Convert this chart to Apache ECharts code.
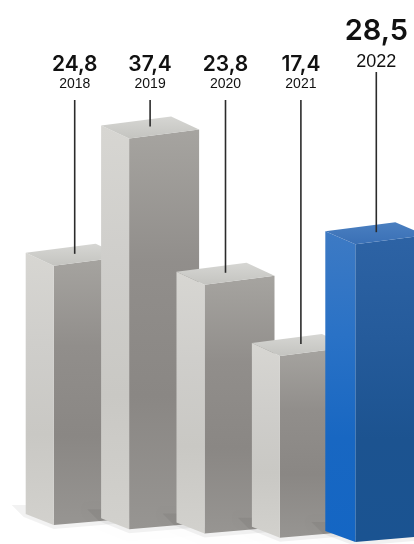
<!DOCTYPE html>
<html>
<head>
<meta charset="utf-8">
<script src="https://cdn.jsdelivr.net/npm/echarts@6/dist/echarts.min.js"></script>
<style>
html,body{margin:0;padding:0;background:#fff;}
#chart{width:414px;height:544px;}
</style>
</head>
<body>
<div id="chart"></div>
<script>
var years = ['2018', '2019', '2020', '2021', '2022'];
var values = [24.8, 37.4, 23.8, 17.4, 28.5];
var highlightIndex = 4;

var chart = echarts.init(document.getElementById('chart'), null, {renderer: 'canvas'});
var G = echarts.graphic;

function grad(stops) {
  return new G.LinearGradient(0, 0, 0, 1, stops.map(function (c, k) {
    return {offset: k / (stops.length - 1), color: c};
  }));
}

var PERSP = 4.25;
var VFONT = 'Inter, "Liberation Sans", Arial, sans-serif';
var YFONT = '"Liberation Sans", Arial, sans-serif';

function renderItem(params, api) {
  var i = api.value(0);
  var v = api.value(1);
  var top = api.coord([i, v]);
  var bot = api.coord([i, 0]);
  var dy = i * PERSP;
  var last = i === highlightIndex;
  var cx = top[0];
  var x1 = cx - 21;
  var x0 = x1 - (last ? 30 : 28);
  var x2 = x1 + 70;
  var yF = top[1] + dy;
  var yB = bot[1] + dy;

  var frontCol, sideCol, topCol;
  if (last) {
    frontCol = grad(['#3d7ac4', '#2a72c6', '#1867c2', '#1466c4']);
    sideCol = grad(['#2d63a5', '#255b9b', '#1c5390', '#1a5391']);
    topCol = grad(['#4a7fc0', '#3a70b6']);
  } else {
    frontCol = grad(['#d7d6d2', '#cfcecb', '#c9c8c4', '#d2d1cd']);
    sideCol = grad(['#a6a4a0', '#918e8b', '#8a8784', '#979592']);
    topCol = grad(['#d6d6d3', '#c4c4c0']);
  }

  var children = [];
  // soft ground shadow
  children.push({
    type: 'polygon',
    shape: {points: [[x0 - 14, yB - 20], [x0 - 2, yB - 8], [x1, yB + 4], [x2 + 2, yB - 2], [x2, yB - 10], [x1, yB - 6], [x0, yB - 20]]},
    style: {fill: 'rgba(0,0,0,0.05)', shadowBlur: 6, shadowColor: 'rgba(0,0,0,0.10)'},
    silent: true
  });
  // side face
  children.push({
    type: 'polygon',
    shape: {points: [[x1, yF], [x2, yF - 9], [x2, yB - 6], [x1, yB]]},
    style: {fill: sideCol}
  });
  // front face
  children.push({
    type: 'polygon',
    shape: {points: [[x0, yF - 13], [x1, yF], [x1, yB], [x0, yB - 11]]},
    style: {fill: frontCol}
  });
  // top face
  children.push({
    type: 'polygon',
    shape: {points: [[x0, yF - 13], [x1, yF], [x2, yF - 9], [x0 + 70, yF - 22]]},
    style: {fill: topCol}
  });
  // leader line
  var lineTop = last ? 72 : 100;
  children.push({
    type: 'line',
    shape: {x1: cx, y1: lineTop, x2: cx, y2: yF - 12},
    style: {stroke: '#2b2b2b', lineWidth: 1.6}
  });
  // value text
  var valText = String(v.toFixed(1)).replace('.', ',');
  children.push({
    type: 'text',
    style: {
      text: valText,
      x: cx, y: last ? 31 : 65,
      align: 'center', verticalAlign: 'middle',
      fontFamily: VFONT,
      fontWeight: 600,
      fontSize: last ? 29 : 21,
      fill: '#111'
    }
  });
  children.push({
    type: 'text',
    style: {
      text: years[i],
      x: cx, y: last ? 62 : 84,
      align: 'center', verticalAlign: 'middle',
      fontFamily: YFONT,
      fontWeight: 400,
      fontSize: last ? 18 : 14,
      fill: '#111'
    }
  });
  return {type: 'group', children: children};
}

var option = {
  backgroundColor: '#ffffff',
  animation: false,
  grid: {left: 37, width: 379, top: 2.5, bottom: 19, containLabel: false},
  xAxis: {
    type: 'category',
    data: years,
    show: false
  },
  yAxis: {
    type: 'value',
    min: 0,
    max: 50,
    interval: 10,
    show: false
  },
  series: [{
    type: 'custom',
    clip: false,
    renderItem: renderItem,
    encode: {x: 0, y: 1},
    data: values.map(function (v, i) { return [i, v]; })
  }]
};
chart.setOption(option);
</script>
</body>
</html>
